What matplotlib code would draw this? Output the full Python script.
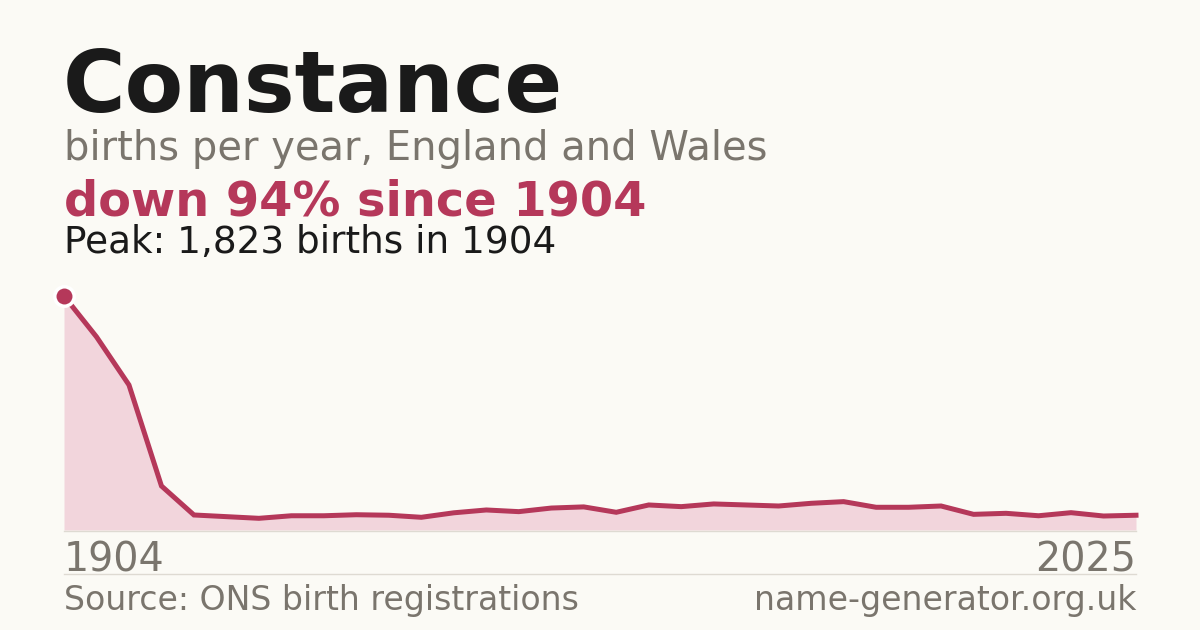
import matplotlib
matplotlib.use("Agg")
from matplotlib import pyplot as plt

# data (points are evenly spaced in the chart)
years = [1904, 1908, 1911, 1915, 1919, 1922, 1926, 1930, 1933, 1937, 1941, 1944,
         1948, 1952, 1955, 1959, 1963, 1966, 1970, 1974, 1977, 1981, 1985, 1988,
         1992, 1996, 1999, 2003, 2007, 2010, 2014, 2018, 2021, 2025]
births = [1823, 1505, 1130, 343, 117, 104, 91, 111, 111, 119, 115, 99,
          134, 156, 143, 171, 180, 138, 195, 182, 203, 195, 187, 208,
          221, 177, 177, 187, 122, 130, 111, 135, 109, 115]

name = "Constance"
subtitle = "births per year, England and Wales"
change = "down 94% since 1904"
peak_text = "Peak: 1,823 births in 1904"
source = "Source: ONS birth registrations"
site = "name-generator.org.uk"

bg = "#fbfaf5"
red = "#b5385a"
fill = "#f2d5dc"
grey = "#7a756d"
dark = "#1a1a1a"

W, H = 1200, 630
fig = plt.figure(figsize=(12, 6.3), dpi=100, facecolor=bg)

def px(x, y):
    return x / W, 1 - y / H

xs = list(range(len(births)))

ax = fig.add_axes([64 / W, 1 - 530 / H, 1072 / W, 234 / H])
ax.set_facecolor(bg)
ax.fill_between(xs, births, 0, color=fill, lw=0)
ax.plot(xs, births, color=red, lw=3.6, solid_joinstyle="miter", clip_on=False)
ax.plot([xs[0]], [births[0]], "o", ms=14, color=red, mec="white", mew=2.5, clip_on=False, zorder=5)
ax.set_xlim(xs[0], xs[-1])
ax.set_ylim(0, max(births))
ax.axis("off")

# baseline and separator rules
fig.add_artist(plt.Line2D([64 / W, 1136 / W], [1 - 530.5 / H] * 2, color="#dedad2", lw=1))
fig.add_artist(plt.Line2D([64 / W, 1136 / W], [1 - 574 / H] * 2, color="#dedad2", lw=1))

fig.text(*px(63, 112), name, fontsize=61.5, fontweight="bold", color=dark, va="baseline")
fig.text(*px(64, 160), subtitle, fontsize=28.8, color=grey, va="baseline")
fig.text(*px(64, 215), change, fontsize=34.5, fontweight="bold", color=red, va="baseline")
fig.text(*px(64, 253), peak_text, fontsize=26.9, color=dark, va="baseline")
fig.text(*px(64, 571), str(years[0]), fontsize=28.5, color=grey, va="baseline")
fig.text(*px(1136, 571), str(years[-1]), fontsize=28.5, color=grey, va="baseline", ha="right")
fig.text(*px(64, 610), source, fontsize=23.9, color=grey, va="baseline")
fig.text(*px(1136, 610), site, fontsize=23.9, color=grey, va="baseline", ha="right")

fig.savefig("out.png", dpi=100, facecolor=bg)
